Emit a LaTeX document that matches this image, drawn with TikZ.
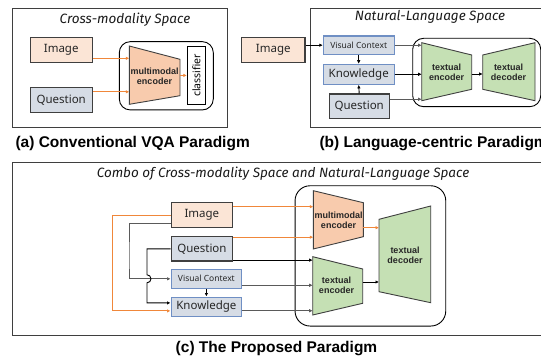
\documentclass[tikz,border=0pt]{standalone}
\usepackage{fontspec}
\setmainfont{Liberation Sans}
\newfontfamily\boxfont{Noto Sans}
\newfontfamily\spacefont{Fira Sans}
\usetikzlibrary{arrows.meta}

\definecolor{peach}{HTML}{FBE5D6}
\definecolor{mmfill}{HTML}{F8CBAD}
\definecolor{qfill}{HTML}{D6DCE5}
\definecolor{encgreen}{HTML}{C5E0B4}
\definecolor{orng}{HTML}{F0873A}
\definecolor{ctxblue}{HTML}{6F8FC4}
\definecolor{edge}{HTML}{3F3F3F}
\definecolor{wire}{HTML}{5A5A5A}

\tikzset{
  inbox/.style={draw=edge, line width=1.1pt, inner sep=0pt,
    font=\boxfont\fontsize{11.5}{12}\selectfont, text=black!85},
  imgbox/.style={inbox, fill=peach},
  qbox/.style={inbox, fill=qfill},
  ctxbox/.style={inbox, draw=ctxblue, fill=qfill},
  frame/.style={draw=edge, line width=0.9pt},
  hub/.style={draw=black, line width=0.9pt, rounded corners=11pt},
  coder/.style={draw=edge, line width=0.9pt},
  coderlbl/.style={font=\bfseries\fontsize{9}{10}\selectfont, align=center, text=black!85},
  spacelbl/.style={font=\spacefont\itshape\fontsize{13.5}{15}\selectfont, text=black!90},
  caption/.style={font=\bfseries\fontsize{15.5}{17}\selectfont},
  oarr/.style={orng, line width=0.9pt, -{Latex[length=3.5pt,width=3.5pt]}},
  karr/.style={black, line width=0.9pt, -{Latex[length=3.5pt,width=3.5pt]}},
  garr/.style={wire, line width=0.9pt, -{Latex[length=3.5pt,width=3.5pt]}},
}

\begin{document}
\begin{tikzpicture}[x=1pt,y=-1pt]
\clip (0,0) rectangle (541,358);

% (a) conventional
\draw[frame] (12.7,8.3) rectangle (227.7,127.7);
\node[spacelbl] (spaceA) at (125,20) {Cross-modality Space};
\node[imgbox, minimum width=62.3pt, minimum height=24.6pt] (imgA) at (61.2,50) {Image};
\node[qbox, minimum width=62.3pt, minimum height=25pt] (qA) at (61.2,99.8) {Question};
\node[hub, minimum width=94pt, minimum height=68.3pt] (hubA) at (166.3,75.8) {};
\draw[coder, fill=mmfill] (129.3,46) -- (180,59.3) -- (180,95.7) -- (129.3,104.3) -- cycle;
\coordinate (encAin) at (129.3,75);
\coordinate (encAout) at (180,75.4);
\node[coderlbl] (encA) at (154.5,76.5) {multimodal\\encoder};
\node[draw=black, line width=1pt, fill=white, inner sep=0pt, rotate=90,
  minimum width=57.3pt, minimum height=18.3pt, font=\boxfont\fontsize{10.5}{12}\selectfont]
  (clsA) at (196.5,75.4) {classifier};
\draw[oarr] ([yshift=-8.3pt]imgA.east) -- ([yshift=-8.3pt]imgA.east -| encAin);
\draw[oarr] ([yshift=8pt]qA.east) -- ([yshift=8pt]qA.east -| encAin);
\draw[oarr] (encAout) -- (clsA.north);
\node[caption, anchor=west] (capA) at (12,144) {(a) Conventional VQA Paradigm};

% (b) language-centric
\draw[frame] (310.7,8.3) rectangle (560,127.7);
\node[spacelbl] (spaceB) at (430,17.3) {Natural-Language Space};
\node[imgbox, minimum width=63.3pt, minimum height=25pt] (imgB) at (273.3,50.2) {Image};
\node[ctxbox, minimum width=70.7pt, minimum height=18.3pt, font=\boxfont\fontsize{8.5}{10}\selectfont]
  (vcB) at (358.7,45.2) {Visual Context};
\node[ctxbox, minimum width=70.7pt, minimum height=20pt] (knB) at (358.7,74.3) {Knowledge};
\node[qbox, minimum width=60.3pt, minimum height=24.3pt] (qB) at (359.2,106.2) {Question};
\node[hub, minimum width=128pt, minimum height=68.4pt] (hubB) at (476.7,72.5) {};
\draw[coder, fill=encgreen] (421.7,42.7) -- (471.7,55) -- (471.7,89.3) -- (421.7,100.7) -- cycle;
\draw[coder, fill=encgreen] (482.7,55) -- (535,42.7) -- (535,100.7) -- (482.7,89.3) -- cycle;
\coordinate (encBin) at (421.7,72);
\coordinate (encBout) at (471.7,74);
\coordinate (decBin) at (482.7,74);
\node[coderlbl] (encB) at (446.7,72.3) {textual\\encoder};
\node[coderlbl] (decB) at (508.5,72.3) {textual\\decoder};
\draw[karr] (imgB.east |- vcB.west) -- (vcB.west);
\draw[karr] (vcB.south) -- (knB.north);
\draw[karr] (qB.north) -- (knB.south);
\draw[garr] (vcB.east) -- (vcB.east -| encBin);
\draw[karr] (knB.east) -- (knB.east -| encBin);
\draw[garr] ([yshift=7pt]qB.east) -- ([yshift=7pt]qB.east -| encBin);
\draw[karr] (encBout) -- (decBin);
\node[caption, anchor=west] (capB) at (316,143.3) {(b) Language-centric Paradigm};

% (c) proposed
\draw[frame] (12.7,162.7) rectangle (560,335.7);
\node[spacelbl] (spaceC) at (283,174) {Combo of Cross-modality Space and Natural-Language Space};
\node[imgbox, minimum width=61.7pt, minimum height=25pt] (imgC) at (201.9,215.2) {Image};
\node[qbox, minimum width=61.7pt, minimum height=24.3pt] (qC) at (201.9,248.9) {Question};
\node[ctxbox, minimum width=70.7pt, minimum height=19pt, font=\boxfont\fontsize{8.5}{10}\selectfont]
  (vcC) at (206.4,278.8) {Visual Context};
\node[ctxbox, minimum width=70.7pt, minimum height=19.7pt] (knC) at (206.4,306.9) {Knowledge};
\node[hub, rounded corners=15pt, minimum width=150.7pt, minimum height=140.3pt] (hubC) at (370.4,255.9) {};
\draw[coder, fill=mmfill] (313.3,190.7) -- (363.3,202.7) -- (363.3,236.7) -- (313.3,249) -- cycle;
\draw[coder, fill=encgreen] (312.7,256.7) -- (362.7,269) -- (362.7,303.3) -- (312.7,315) -- cycle;
\draw[coder, fill=encgreen] (379,219.3) -- (430.7,206) -- (430.7,302.7) -- (379,291.7) -- cycle;
\coordinate (mmCin) at (313.3,220);
\coordinate (teCin) at (312.7,285);
\coordinate (mmCout) at (363.3,227.7);
\coordinate (teCout) at (362.7,282);
\coordinate (tdCin) at (379,255);
\node[coderlbl] (mmC) at (338.5,220.7) {multimodal\\encoder};
\node[coderlbl] (teC) at (336.5,285) {textual\\encoder};
\node[coderlbl] (tdC) at (405,255) {textual\\decoder};
% routes on the left
\draw[oarr] (imgC.west) -| (112.7,290) |- ([yshift=-4pt]knC.west);
\draw[garr] ([yshift=-8pt]imgC.west) -| (129,260) |- (vcC.west);
\draw[karr] (qC.west) -| (147,274.8) arc[start angle=90, end angle=-90, radius=4pt]
  |- ([yshift=4pt]knC.west);
\draw[karr] (vcC.south) -- (knC.north);
% routes to the hub
\draw[oarr] ([yshift=8.5pt]imgC.east) -- ([yshift=8.5pt]imgC.east -| mmCin);
\draw[oarr] ([yshift=-1pt]qC.north east) -- ([yshift=-1pt]qC.north east -| mmCin);
\draw[karr] ([yshift=1.5pt]qC.south east) -- ([yshift=1.5pt]qC.south east -| teCin);
\draw[garr] ([yshift=-6.5pt]vcC.east) -- ([yshift=-6.5pt]vcC.east -| teCin);
\draw[garr] ([yshift=-3.8pt]knC.east) -- ([yshift=-3.8pt]knC.east -| teCin);
\draw[oarr] (mmCout) -- (mmCout -| tdCin);
\draw[karr] (teCout) -- (teCout -| tdCin);
\node[caption] (capC) at (276.5,349) {(c) The Proposed Paradigm};
\end{tikzpicture}
\end{document}
